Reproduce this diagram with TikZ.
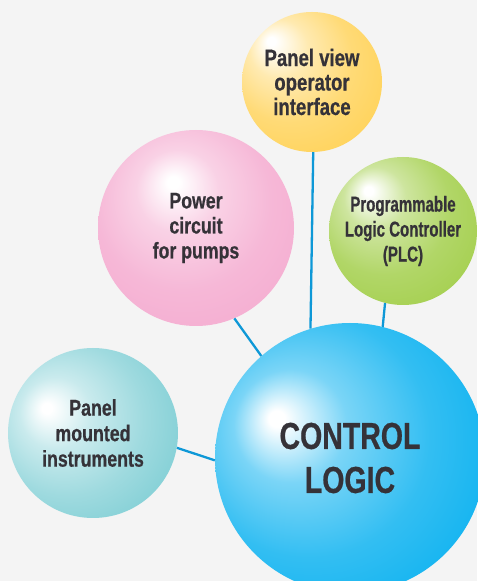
\documentclass[tikz,border=0pt]{standalone}
\usepackage{fontspec}
\newfontfamily\fA[FakeStretch=0.78, FakeBold=0.6, UprightFont={* Bold}]{Liberation Sans}
\newfontfamily\fB[FakeStretch=0.70, FakeBold=0.6, UprightFont={* Bold}]{Liberation Sans}
\newfontfamily\fC[FakeStretch=0.76, FakeBold=0.6, UprightFont={* Bold}]{Liberation Sans}
\definecolor{bgc}{RGB}{244,244,244}
\definecolor{txt}{RGB}{53,50,56}
\definecolor{lnc}{RGB}{14,152,215}
\definecolor{cY}{RGB}{255,208,80}
\definecolor{cP}{RGB}{244,168,206}
\definecolor{cG}{RGB}{160,205,70}
\definecolor{cT}{RGB}{114,201,208}
\definecolor{cB}{RGB}{0,174,239}
\newcommand{\mkshade}[6]{%
  \pgfdeclareradialshading{#1}{\pgfpoint{#2}{#3}}{color(0bp)=(white); color(1.5bp)=(white); color(10.5bp)=(#4!#5!white); color(22.5bp)=(#4!#6!white); color(39bp)=(#4); color(50bp)=(#4)}}
\mkshade{shY}{-15bp}{15bp}{cY}{45}{78}
\mkshade{shP}{-6bp}{12bp}{cP}{52}{82}
\mkshade{shG}{-12bp}{14bp}{cG}{52}{82}
\mkshade{shT}{-14bp}{7.5bp}{cT}{38}{68}
\mkshade{shB}{-14bp}{7.5bp}{cB}{52}{80}
\tikzset{
  bubble/.style={circle, inner sep=0pt, draw=none, align=center, text=txt},
  link/.style={draw=lnc, line width=2.3pt}
}
\begin{document}
\begin{tikzpicture}[x=1pt,y=1pt]
\fill[bgc] (0,0) rectangle (477,581);
\useasboundingbox (0,0) rectangle (477,581);
\node[bubble, minimum size=140pt, shading=shY,
  font={\fA\fontsize{23.8}{24.5}\selectfont}] (yel) at (312,499) {Panel view\\operator\\interface};
\node[bubble, minimum size=196pt, shading=shP,
  font={\fA\fontsize{22.7}{25}\selectfont}] (pnk) at (196,353) {Power\\circuit\\for pumps};
\node[bubble, minimum size=148pt, shading=shG,
  font={\fB\fontsize{21.5}{25}\selectfont}] (grn) at (403,350) {Programmable\\Logic Controller\\(PLC)};
\node[bubble, minimum size=170pt, shading=shT,
  font={\fA\fontsize{22.8}{25.5}\selectfont}] (tea) at (93,148) {Panel\\mounted\\instruments};
\node[bubble, minimum size=270pt, shading=shB,
  font={\fC\fontsize{37.5}{44}\selectfont}] (blu) at (350,123) {CONTROL\\LOGIC};
\draw[link] (yel.-89) -- (blu.107.7);
\draw[link] (pnk.-67) -- (blu.131.4);
\draw[link] (grn.-104) -- (blu.76.7);
\draw[link] (tea.-10.7) -- (blu.181.3);
\end{tikzpicture}
\end{document}
